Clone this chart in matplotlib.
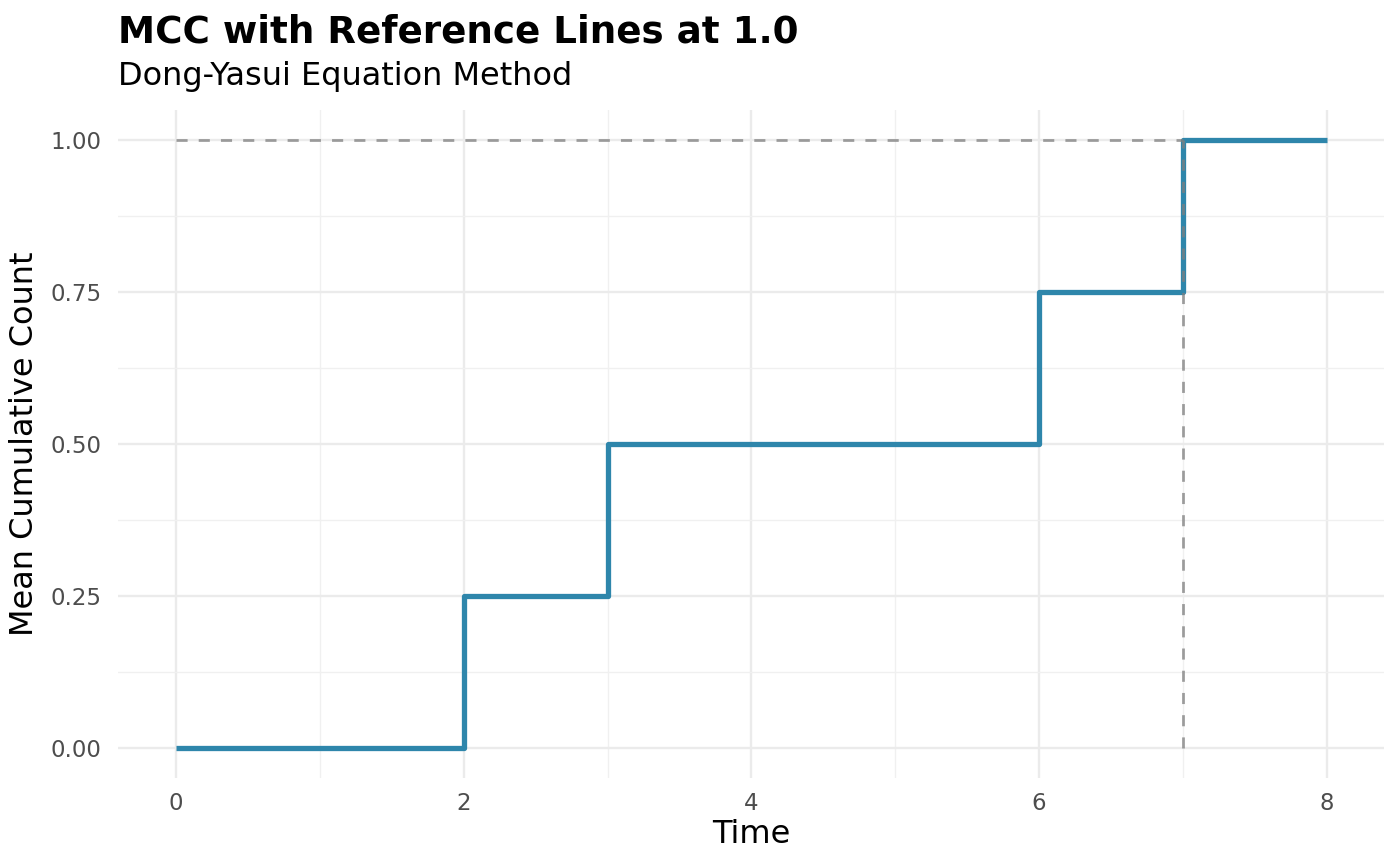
import matplotlib
matplotlib.use("Agg")
import matplotlib.pyplot as plt
from matplotlib.ticker import MultipleLocator

plt.rcParams['font.family'] = ['DejaVu Sans']

# Data
times = [0, 2, 3, 6, 7, 8]
mcc = [0.0, 0.25, 0.5, 0.75, 1.0, 1.0]
ref_level = 1.0
ref_time = 7
x_ticks = [0, 2, 4, 6, 8]
y_ticks = [0.0, 0.25, 0.5, 0.75, 1.0]
y_tick_labels = ["0.00", "0.25", "0.50", "0.75", "1.00"]

fig = plt.figure(figsize=(14, 8.66), dpi=100)
ax = fig.add_axes([0.0846, 0.1012, 0.9043, 0.7722])

ax.step(times, mcc, where='post', color='#2E86AB', linewidth=3.8, solid_capstyle='butt', zorder=3)
ax.plot([0, ref_time], [ref_level, ref_level], color='#7F7F7F', alpha=0.75,
        linewidth=2.0, dashes=(4, 4), zorder=4)
ax.plot([ref_time, ref_time], [0, ref_level], color='#7F7F7F', alpha=0.75,
        linewidth=2.0, dashes=(4, 4), zorder=4)

ax.set_xlim(-0.4, 8.4)
ax.set_ylim(-0.05, 1.05)
ax.set_xticks(x_ticks)
ax.set_yticks(y_ticks)
ax.set_yticklabels(y_tick_labels)
ax.xaxis.set_minor_locator(MultipleLocator(1))
ax.yaxis.set_minor_locator(MultipleLocator(0.125))
ax.grid(which='major', color='#EBEBEB', linewidth=1.7)
ax.grid(which='minor', color='#F0F0F0', linewidth=1.0)
ax.set_axisbelow(True)
for s in ax.spines.values():
    s.set_visible(False)
ax.tick_params(which='both', length=0)
ax.tick_params(axis='both', labelsize=16.5, colors='#4D4D4D')
ax.tick_params(axis='y', pad=12)
ax.tick_params(axis='x', pad=10)

ax.set_xlabel("Time", fontsize=23, color='black')
ax.set_ylabel("Mean Cumulative Count", fontsize=23, color='black')
ax.xaxis.set_label_coords(0.5, -0.061)
ax.yaxis.set_label_coords(-0.062, 0.5)

fig.text(0.0846, 0.9515, "MCC with Reference Lines at 1.0", fontsize=26.8,
         fontweight='bold', ha='left', va='baseline')
fig.text(0.0846, 0.9018, "Dong-Yasui Equation Method", fontsize=23,
         ha='left', va='baseline')

fig.savefig("out.png", dpi=100)
